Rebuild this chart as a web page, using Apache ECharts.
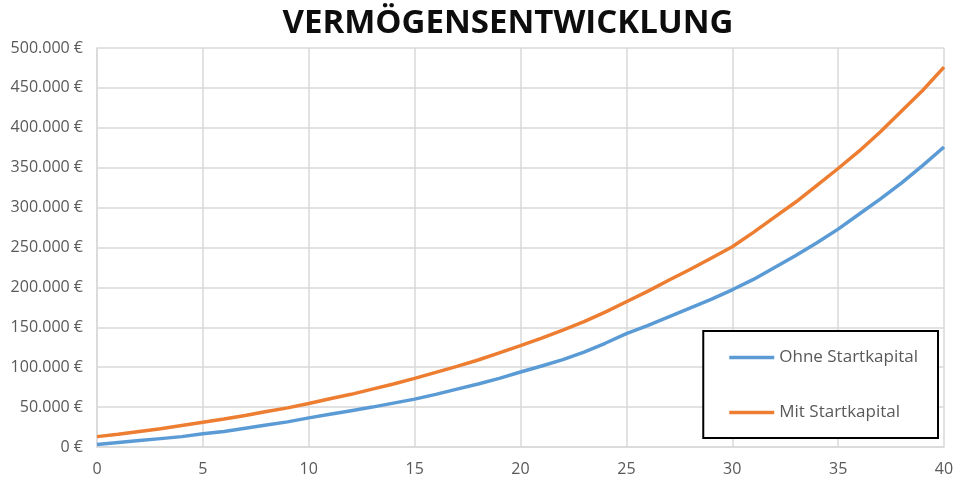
<!DOCTYPE html>
<html>
<head>
<meta charset="utf-8">
<script src="https://cdn.jsdelivr.net/npm/echarts@6/dist/echarts.min.js"></script>
<style>html,body{margin:0;padding:0;background:#fff}#c{width:960px;height:481px}</style>
</head>
<body>
<div id="c"></div>
<script>
var title = 'VERMÖGENSENTWICKLUNG';
var years = [];
for (var i = 0; i <= 40; i++) years.push(i);
var seriesNames = ['Ohne Startkapital', 'Mit Startkapital'];
var ohne = [3000,5500,8000,10500,13000,16500,19500,23500,27500,31500,36500,41000,45500,50000,55000,60000,66000,72500,79000,86000,94000,101500,109500,119000,130000,142000,152000,163000,174000,185000,197000,210000,225000,240000,256000,273000,292000,311000,331000,353000,376000];
var mit = [13000,16000,19500,23000,27000,31000,35000,39500,44500,49000,54500,60500,66000,72500,79000,86000,93500,101000,109000,118000,127000,136500,146500,157000,169000,182000,195000,209000,222500,236500,251000,269000,288000,307000,328000,349000,371000,395000,421000,447000,476000];

function fmt(v){
  var s = String(Math.round(v));
  return s.replace(/\B(?=(\d{3})+(?!\d))/g, '.') + ' €';
}
function pairs(arr){ return years.map(function(y,i){ return [y, arr[i]]; }); }

var chart = echarts.init(document.getElementById('c'), null, {renderer:'canvas'});
chart.setOption({
  animation:false,
  backgroundColor:'#ffffff',
  textStyle:{fontFamily:'"Open Sans", sans-serif'},
  title:{text:title, left:503, top:2, textAlign:'center',
    textStyle:{fontFamily:'"Open Sans", sans-serif', fontWeight:'bold', fontSize:33, color:'#0d0d0d'}},
  grid:{left:97, right:16, top:48, bottom:34, containLabel:false},
  legend:{
    orient:'vertical', right:22, bottom:43,
    backgroundColor:'#ffffff', borderColor:'#000000', borderWidth:2,
    padding:[18,20,17,26], itemGap:38, itemWidth:45, itemHeight:14,
    icon:'path://M0,0 M0,5.3 L45,5.3 L45,8.7 L0,8.7 Z M45,14',
    textStyle:{fontSize:17, color:'#595959', fontFamily:'"Open Sans", sans-serif'},
    data:seriesNames
  },
  xAxis:{type:'value', min:0, max:40, interval:5,
    axisLine:{show:true, lineStyle:{color:'#d9d9d9', width:1.5}},
    axisTick:{show:false},
    splitLine:{show:true, lineStyle:{color:'#d9d9d9', width:1.5}},
    axisLabel:{fontSize:16, color:'#595959', margin:14, fontFamily:'"Open Sans", sans-serif'}},
  yAxis:{type:'value', min:0, max:500000, interval:50000,
    axisLine:{show:true, lineStyle:{color:'#d9d9d9', width:1.5}},
    axisTick:{show:false},
    splitLine:{show:true, lineStyle:{color:'#d9d9d9', width:1.5}},
    axisLabel:{fontSize:16, color:'#595959', margin:14, formatter:fmt, fontFamily:'"Open Sans", sans-serif'}},
  series:[
    {name:seriesNames[0], type:'line', data:pairs(ohne), showSymbol:false, symbol:'none',
      lineStyle:{color:'#5B9BD5', width:3.5}, itemStyle:{color:'#5B9BD5'}, z:3},
    {name:seriesNames[1], type:'line', data:pairs(mit), showSymbol:false, symbol:'none',
      lineStyle:{color:'#ED7D31', width:3.5}, itemStyle:{color:'#ED7D31'}, z:3}
  ]
});
</script>
</body>
</html>
